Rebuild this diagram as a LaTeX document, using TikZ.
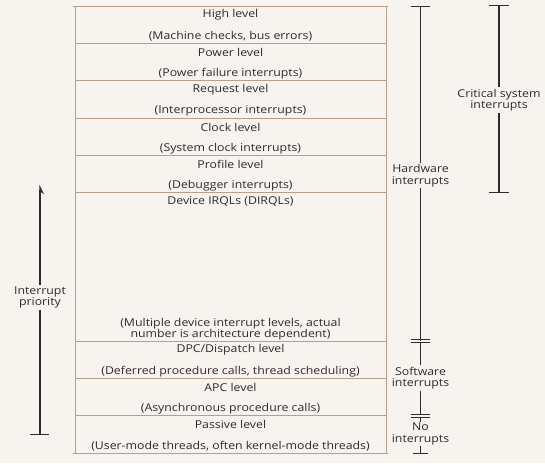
\documentclass[tikz,border=0pt]{standalone}
\usepackage{fontspec}
\setmainfont{Open Sans}[FakeStretch=1.14]
\usetikzlibrary{arrows.meta}
\definecolor{bg}{HTML}{F7F3EE}
\definecolor{boxc}{HTML}{B5A088}
\definecolor{ink}{HTML}{2F2B2B}
\begin{document}
\begin{tikzpicture}[x=1pt,y=-1pt,
  lvl/.style={font=\fontsize{10.8}{12}\selectfont, text=ink, inner sep=0pt},
  lab/.style={font=\fontsize{10.8}{11.4}\selectfont, text=ink, align=center, inner sep=1.5pt},
  bar/.style={draw=ink, line width=1.1pt},
  tick/.style={draw=ink, line width=0.8pt},
  sep/.style={draw=boxc, line width=1pt}]
\fill[bg] (0,0) rectangle (545,463);
\useasboundingbox (0,0) rectangle (545,463);
% level box
\foreach \y in {43.3,80.6,118,155.3,192.6,341,378.3,415.6}
  \draw[sep] (75,\y) -- (386,\y);
\draw[sep] (73,6) -- (388,6);
\draw[sep] (73,453) -- (388,453);
\draw[sep] (75,6) -- (75,453);
\draw[sep] (386,6) -- (386,453);
% level texts
\node[lvl] (t1) at (230.5,15) {High level};
\node[lvl] (s1) at (230.5,36) {(Machine checks, bus errors)};
\node[lvl] (t2) at (230.5,52.3) {Power level};
\node[lvl] (s2) at (230.5,73.6) {(Power failure interrupts)};
\node[lvl] (t3) at (230.5,89.6) {Request level};
\node[lvl] (s3) at (230.5,111) {(Interprocessor interrupts)};
\node[lvl] (t4) at (230.5,127) {Clock level};
\node[lvl] (s4) at (230.5,148.3) {(System clock interrupts)};
\node[lvl] (t5) at (230.5,164.3) {Profile level};
\node[lvl] (s5) at (230.5,185.6) {(Debugger interrupts)};
\node[lvl] (t6) at (230.5,201.6) {Device IRQLs (DIRQLs)};
\node[lvl] (s6a) at (230.5,323.5) {(Multiple device interrupt levels, actual};
\node[lvl] (s6b) at (230.5,334.8) {number is architecture dependent)};
\node[lvl] (t7) at (230.5,350) {DPC/Dispatch level};
\node[lvl] (s7) at (230.5,371.3) {(Deferred procedure calls, thread scheduling)};
\node[lvl] (t8) at (230.5,387.3) {APC level};
\node[lvl] (s8) at (230.5,408.6) {(Asynchronous procedure calls)};
\node[lvl] (t9) at (230.5,424.6) {Passive level};
\node[lvl] (s9) at (230.5,446) {(User-mode threads, often kernel-mode threads)};
% hardware bracket
\coordinate (hwtop) at (420.5,6);
\coordinate (hwbot) at (420.5,341);
\node[lab] (hw) at (420.5,175.5) {Hardware\\interrupts};
\draw[tick] (411,6) -- (430,6);
\draw[bar] (hwtop) -- (hw.north);
\draw[bar] (hw.south) -- (hwbot);
\draw[tick] (410.5,339.5) -- (430,339.5);
\draw[tick] (410.5,342.5) -- (430,342.5);
% software bracket
\coordinate (swtop) at (420.5,342.5);
\coordinate (swbot) at (420.5,414.5);
\node[lab] (sw) at (420.5,378) {Software\\interrupts};
\draw[bar] (swtop) -- (sw.north);
\draw[bar] (sw.south) -- (swbot);
\draw[tick] (410.5,414.5) -- (430,414.5);
\draw[tick] (410.5,417.3) -- (430,417.3);
% no interrupts
\coordinate (notop) at (420.5,417.3);
\coordinate (nobot) at (420.5,453);
\node[lab, inner sep=1pt] (no) at (420.5,434) {No\\interrupts};
\draw[bar] (notop) -- (no.north);
\draw[bar] (no.south) -- (nobot);
\draw[tick] (413,453) -- (428,453);
% critical bracket
\coordinate (crtop) at (499,5.5);
\coordinate (crbot) at (499,192.5);
\node[lab] (cr) at (499,100) {Critical system\\interrupts};
\draw[tick] (489,5.5) -- (508.5,5.5);
\draw[bar] (crtop) -- (cr.north);
\draw[bar] (cr.south) -- (crbot);
\draw[tick] (489,192.5) -- (508.5,192.5);
% interrupt priority
\coordinate (prtop) at (40,185);
\coordinate (prbot) at (40,434);
\node[lab] (pr) at (40,297.5) {Interrupt\\priority};
\draw[bar, -{Stealth[harpoon, swap, length=8pt, width=8pt]}] (pr.north) -- (prtop);
\draw[bar] (pr.south) -- (prbot);
\draw[tick] (30,434) -- (49,434);
\end{tikzpicture}
\end{document}
